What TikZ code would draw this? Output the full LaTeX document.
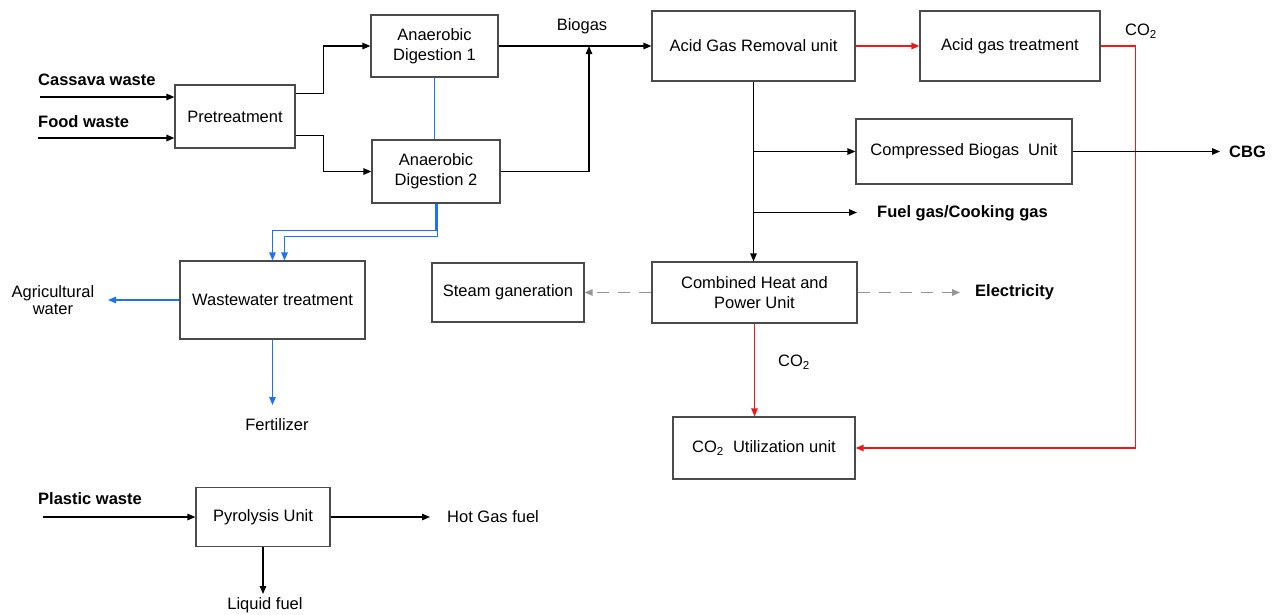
\documentclass[tikz,border=0pt]{standalone}
\usepackage{fontspec}
\setmainfont{Liberation Sans}
\usetikzlibrary{arrows.meta}
\definecolor{flowblue}{RGB}{30,115,235}
\definecolor{flowred}{RGB}{235,25,25}
\definecolor{boxgray}{RGB}{75,75,75}
\definecolor{dashgray}{RGB}{150,150,150}
\tikzset{
unit/.style={draw=boxgray, line width=1.2pt, align=center, inner sep=2pt, font=\fontsize{16.5}{20}\selectfont},
lbl/.style={align=center, inner sep=1pt, font=\fontsize{16.5}{20}\selectfont},
blbl/.style={inner sep=1pt, font=\bfseries\fontsize{16.5}{20}\selectfont},
flow/.style={line width=1.3pt, -{Triangle[length=8pt,width=6.5pt]}},
dflow/.style={flow, line width=1.5pt, dashgray, dash pattern=on 12pt off 9pt},
}
\begin{document}
\begin{tikzpicture}
[x=1pt, y=-1pt]
\useasboundingbox (0,0) rectangle (1285,614);
% process units
\node[unit, minimum width=120pt, minimum height=63pt] (pre) at (235,116.5) {Pretreatment};
\node[unit, minimum width=127pt, minimum height=62pt] (ad1) at (434.5,46) {Anaerobic\\Digestion 1};
\node[unit, minimum width=128pt, minimum height=63pt] (ad2) at (436,171.5) {Anaerobic\\Digestion 2};
\node[unit, minimum width=203pt, minimum height=70pt] (agr) at (753.5,46) {Acid Gas Removal unit};
\node[unit, minimum width=180pt, minimum height=70pt] (agt) at (1010,46) {Acid gas treatment};
\node[unit, minimum width=216pt, minimum height=65pt] (cbu) at (964,151.5) {Compressed Biogas\ \ Unit};
\node[unit, minimum width=205pt, minimum height=61pt] (chp) at (754.5,292.5) {Combined Heat and\\Power Unit};
\node[unit, minimum width=152pt, minimum height=59pt] (steam) at (508,292.5) {Steam ganeration};
\node[unit, minimum width=182pt, minimum height=62pt] (cou) at (764,448) {CO\textsubscript{2}\ \ Utilization unit};
\node[unit, minimum width=185pt, minimum height=78pt] (ww) at (272.5,300) {Wastewater treatment};
\node[unit, minimum width=134pt, minimum height=59pt] (pyro) at (263,517) {Pyrolysis Unit};
% stream labels
\node[blbl, anchor=west] (cassava) at (37,80) {Cassava waste};
\node[blbl, anchor=west] (food) at (37,122) {Food waste};
\node[lbl] (biogas) at (582,26) {Biogas};
\node[lbl] (co2a) at (1141,31) {CO\textsubscript{2}};
\node[blbl, anchor=west] (cbg) at (1228,152) {CBG};
\node[blbl, anchor=west] (fuel) at (876,213) {Fuel gas/Cooking gas};
\node[blbl, anchor=west] (elec) at (974,292) {Electricity};
\node[lbl] (co2b) at (794,362) {CO\textsubscript{2}};
\node[lbl] (agri) at (53,300) {Agricultural\\[-3pt]water};
\node[lbl] (fert) at (277,425) {Fertilizer};
\node[blbl, anchor=west] (plastic) at (37,499) {Plastic waste};
\node[lbl, anchor=west] (hotgas) at (446,517) {Hot Gas fuel};
\node[lbl] (liquid) at (265,605) {Liquid fuel};
% free ends
\coordinate (cassava-in) at (40,97);
\coordinate (food-in) at (38,138);
\coordinate (bjoin) at (589,46);
\coordinate (agri-out) at (108,300);
\coordinate (fert-out) at (272.5,405);
\coordinate (fuel-out) at (857,212.5);
\coordinate (cbg-out) at (1220,151.5);
\coordinate (elec-out) at (960,292.5);
\coordinate (plastic-in) at (43,517);
\coordinate (hot-out) at (430,517);
\coordinate (liq-out) at (263,594);
% feeds
\draw[flow] (cassava-in) -- (cassava-in -| pre.west);
\draw[flow] (food-in) -- (food-in -| pre.west);
\draw[flow] ([yshift=23pt]pre.east) -- ++(28,0) |- (ad1.west);
\draw[flow] ([yshift=-19pt]pre.east) -- ++(28,0) |- (ad2.west);
% biogas
\draw[flow] (ad1.east) -- (agr.west);
\draw[flow] (ad2.east) -| (bjoin);
\draw[flowblue, line width=1.2pt] (ad1.south) -- (ad1.south |- ad2.north);
% digestate
\draw[flow, flowblue] (ad2.south) -- ++(0,27) -| (ww.north);
\draw[flow, flowblue] ([xshift=1.5pt]ad2.south) -- ++(0,33) -| ([xshift=12pt]ww.north);
\draw[flow, flowblue] (ww.west) -- (agri-out);
\draw[flow, flowblue] (ww.south) -- (fert-out);
% gas cleaning
\draw[flow, flowred] (agr.east) -- (agt.west);
\draw[flow, flowred] (agt.east) -- ++(35,0) |- (cou.east);
\draw[flow] (agr.south) -- (agr.south |- chp.north);
\draw[flow] (agr.south |- cbu.west) -- (cbu.west);
\draw[flow] (agr.south |- fuel-out) -- (fuel-out);
\draw[flow] (cbu.east) -- (cbg-out);
% CHP
\draw[dflow] (chp.west) -- (steam.east);
\draw[dflow] (chp.east) -- (elec-out);
\draw[flow, flowred] (chp.south) -- (chp.south |- cou.north);
% plastic
\draw[flow] (plastic-in) -- (plastic-in -| pyro.west);
\draw[flow] (pyro.east) -- (hot-out);
\draw[flow] (pyro.south) -- (pyro.south |- liq-out);
\end{tikzpicture}
\end{document}
